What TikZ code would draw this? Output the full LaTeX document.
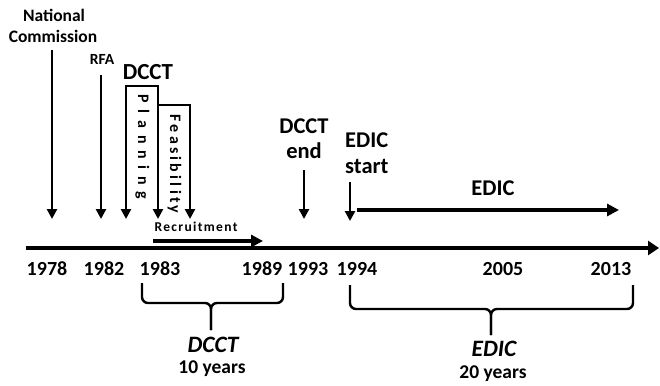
\documentclass[tikz,border=0pt]{standalone}
\usepackage{fontspec}
\setmainfont{Carlito}
\usetikzlibrary{arrows.meta}
\begin{document}
\begin{tikzpicture}[x=1pt,y=-1pt,
  txt/.style={inner sep=0pt, anchor=base, font=\bfseries\fontsize{#1}{#1}\selectfont},
  txt/.default=20,
  itxt/.style={inner sep=0pt, anchor=base, font=\bfseries\itshape\fontsize{#1}{#1}\selectfont},
  itxt/.default=24,
  vart/.style={line width=2.8pt, -{Triangle[length=10pt,width=10pt]}},
  varts/.style={line width=2.8pt, {Triangle[length=10pt,width=10pt]}-{Triangle[length=10pt,width=10pt]}},
  axisarrow/.style={line width=4.8pt, -{Triangle[length=11pt,width=14pt]}},
  spanarrow/.style={line width=4pt, -{Triangle[length=12pt,width=12pt]}},
  bracestyle/.style={line width=2.4pt, rounded corners=6pt},
  spaced/.style={inner sep=0pt, rotate=-90, font=\bfseries\fontsize{16}{16}\selectfont\addfontfeatures{LetterSpace=#1}}
]
\useasboundingbox (0,0) rectangle (660,385);

% main axis
\coordinate (ax0) at (26,248);
\coordinate (ax1) at (659,248);
\draw[axisarrow] (ax0) -- (ax1);

% year labels
\node[txt] (y1978) at (47,275) {1978};
\node[txt] (y1982) at (104,275) {1982};
\node[txt] (y1983) at (160,275) {1983};
\node[txt] (y1989) at (262,275) {1989};
\node[txt] (y1993) at (308,275) {1993};
\node[txt] (y1994) at (357,275) {1994};
\node[txt] (y2005) at (503,275) {2005};
\node[txt] (y2013) at (611,275) {2013};

% National Commission
\node[txt=17.5] (nat1) at (54,22) {National};
\node[txt=17.5] (nat2) at (53,43) {Commission};
\coordinate (natA) at (52,50);
\coordinate (natB) at (52,219);
\draw[vart] (natA) -- (natB);

% RFA
\node[txt=15.5] (rfa) at (102,65) {RFA};
\coordinate (rfaA) at (101,75);
\coordinate (rfaB) at (101,219);
\draw[vart] (rfaA) -- (rfaB);

% DCCT planning / feasibility
\node[txt=23] (dcct) at (148,80) {DCCT};
\coordinate (plL) at (126,219);
\coordinate (plTop) at (158,86);
\coordinate (plR) at (158,219);
\draw[varts] (plL) |- (plTop) -- (plR);
\coordinate (feL) at (158,105);
\coordinate (feR) at (190,219);
\draw[vart] (feL) -| (feR);
\node[spaced=42] (plan) at (142.5,147) {Planning};
\node[spaced=20] (feas) at (174.5,164) {Feasibility};

% Recruitment
\node[txt, font=\bfseries\fontsize{13.5}{13.5}\selectfont\addfontfeatures{LetterSpace=10}] (recr) at (196,231) {Recruitment};
\coordinate (recA) at (153,241);
\coordinate (recB) at (263,241);
\draw[spanarrow] (recA) -- (recB);

% DCCT end
\node[txt=22.5] (de1) at (304,133) {DCCT};
\node[txt=22.5] (de2) at (304,158) {end};
\coordinate (deA) at (304,170);
\coordinate (deB) at (304,219);
\draw[vart] (deA) -- (deB);

% EDIC start
\node[txt=22.5, anchor=base west] (es1) at (345,147) {EDIC};
\node[txt=22.5, anchor=base west] (es2) at (345,173) {start};
\coordinate (esA) at (350,182);
\coordinate (esB) at (350,221);
\draw[vart] (esA) -- (esB);

% EDIC span
\node[txt=22.5] (edic) at (493,195) {EDIC};
\coordinate (edA) at (357,210);
\coordinate (edB) at (619,210);
\draw[spanarrow] (edA) -- (edB);

% DCCT brace
\coordinate (db1) at (142,283);
\coordinate (db2) at (283,283);
\coordinate (dbm) at (211,303);
\coordinate (dbt) at (211,330);
\draw[bracestyle] (db1) |- (dbm) -- (dbt);
\draw[bracestyle] (db2) |- (dbm) -- (dbt);
\node[itxt=23.5] (dlab) at (213,352) {DCCT};
\node[txt=19.5] (dyrs) at (212,373) {10 years};

% EDIC brace
\coordinate (eb1) at (350,285);
\coordinate (eb2) at (633,285);
\coordinate (ebm) at (491,309);
\coordinate (ebt) at (491,335);
\draw[bracestyle] (eb1) |- (ebm) -- (ebt);
\draw[bracestyle] (eb2) |- (ebm) -- (ebt);
\node[itxt=23.5] (elab) at (494,356) {EDIC};
\node[txt=19.5] (eyrs) at (493,378) {20 years};
\end{tikzpicture}
\end{document}
